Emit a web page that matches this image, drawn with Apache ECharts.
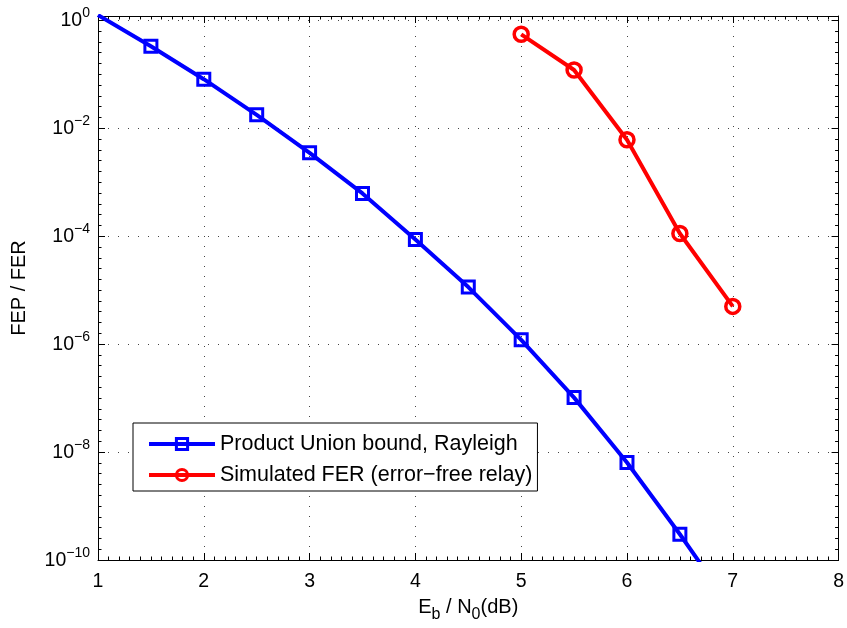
<!DOCTYPE html>
<html>
<head>
<meta charset="utf-8">
<script src="https://cdn.jsdelivr.net/npm/echarts@6/dist/echarts.min.js"></script>
<style>
html, body { margin: 0; padding: 0; background: #fff; }
#chart { width: 847px; height: 628px; }
</style>
</head>
<body>
<div id="chart"></div>
<script>
// Eb/N0 (dB) points
const boundX = [1, 1.5, 2, 2.5, 3, 3.5, 4, 4.5, 5, 5.5, 6, 6.5, 7];
const boundFEP = [1.25, 0.33, 0.081, 0.0177, 0.0035, 6.2e-4, 8.7e-5, 1.14e-5, 1.2e-6, 1.02e-7, 6.4e-9, 3.0e-10, 1.2e-11];
const simX = [5, 5.5, 6, 6.5, 7];
const simFER = [0.55, 0.12, 0.0061, 1.12e-4, 5.0e-6];

const seriesNames = ['Product Union bound, Rayleigh', 'Simulated FER (error\u2212free relay)'];
const xRange = [1, 8];
const yRange = [1e-10, 1.2];   // plotted on log10 scale
const font = '"Liberation Sans", Arial, Helvetica, sans-serif';

const lg = v => Math.log10(v);
const toPts = (xs, ys) => xs.map((x, i) => [x, lg(ys[i])]);

function decadeLabel(v) {
    const n = Math.round(v);
    if (Math.abs(v - n) > 1e-6) return '';
    return '{b|10}{e|' + (n < 0 ? '\u2212' : '') + Math.abs(n) + '}';
}

const dotted = { color: '#444', width: 1, type: [1, 9] };
const tickStyle = { color: '#000', width: 1 };

const chart = echarts.init(document.getElementById('chart'));
const option = {
    backgroundColor: '#fff',
    animation: false,
    textStyle: { fontFamily: font },
    grid: { left: 98, right: 4, top: 16, bottom: 66 },
    legend: {
        orient: 'vertical',
        left: 133, top: 423,
        padding: [10, 5, 5, 14],
        itemGap: 9,
        itemWidth: 66, itemHeight: 14,
        backgroundColor: '#fff',
        borderColor: '#000', borderWidth: 1, borderRadius: 0,
        lineStyle: { width: 4 },
        itemStyle: { borderWidth: 3 },
        textStyle: { fontFamily: font, fontSize: 21.5, lineHeight: 22, color: '#000' },
        data: seriesNames
    },
    xAxis: [{
        type: 'value', min: xRange[0], max: xRange[1], interval: 1,
        name: '{n|E}{s|b}{n| / N}{s|0}{n|(dB)}',
        nameLocation: 'middle', nameGap: 37,
        nameTextStyle: {
            rich: {
                n: { fontFamily: font, fontSize: 20, lineHeight: 20, color: '#000', verticalAlign: 'top' },
                s: { fontFamily: font, fontSize: 16, lineHeight: 16, color: '#000', verticalAlign: 'top', padding: [10, 0, 0, 0] }
            }
        },
        axisLine: { show: true, onZero: false, lineStyle: { color: '#000', width: 1 } },
        axisTick: { inside: true, length: 7, lineStyle: tickStyle },
        minorTick: { show: true, splitNumber: 10, length: 3.5, lineStyle: tickStyle },
        axisLabel: { fontFamily: font, fontSize: 19.5, color: '#000', margin: 12 },
        splitLine: { show: true, lineStyle: dotted }
    }, {
        type: 'value', position: 'top', min: xRange[0], max: xRange[1], interval: 1,
        axisLine: { show: true, onZero: false, lineStyle: { color: '#000', width: 1 } },
        axisTick: { inside: true, length: 7, lineStyle: tickStyle },
        minorTick: { show: true, splitNumber: 10, length: 3.5, lineStyle: tickStyle },
        axisLabel: { show: false },
        splitLine: { show: false }
    }],
    yAxis: [{
        type: 'value', min: lg(yRange[0]), max: lg(yRange[1]), interval: 2,
        name: 'FEP / FER',
        nameLocation: 'middle', nameGap: 69,
        nameTextStyle: { fontFamily: font, fontSize: 20, color: '#000' },
        axisLine: { show: true, onZero: false, lineStyle: { color: '#000', width: 1 } },
        axisTick: { inside: true, length: 7, lineStyle: tickStyle },
        minorTick: { show: true, splitNumber: 10, length: 3.5, lineStyle: tickStyle },
        axisLabel: {
            margin: 8,
            padding: [2, 0, 0, 0],
            formatter: decadeLabel,
            rich: {
                b: { fontFamily: font, fontSize: 19.5, lineHeight: 19.5, color: '#000', verticalAlign: 'bottom' },
                e: { fontFamily: font, fontSize: 14, lineHeight: 14, color: '#000', verticalAlign: 'bottom', padding: [0, 0, 11, 0] }
            }
        },
        splitLine: { show: true, lineStyle: dotted }
    }, {
        type: 'value', position: 'right', min: lg(yRange[0]), max: lg(yRange[1]), interval: 2,
        axisLine: { show: true, onZero: false, lineStyle: { color: '#000', width: 1 } },
        axisTick: { inside: true, length: 7, lineStyle: tickStyle },
        minorTick: { show: true, splitNumber: 10, length: 3.5, lineStyle: tickStyle },
        axisLabel: { show: false },
        splitLine: { show: false }
    }],
    series: [{
        name: seriesNames[0],
        type: 'line',
        data: toPts(boundX, boundFEP),
        clip: true,
        color: '#0000ff',
        symbol: 'rect', symbolSize: 12,
        showAllSymbol: true,
        itemStyle: { color: 'rgba(0,0,0,0)', borderColor: '#0000ff', borderWidth: 3 },
        lineStyle: { color: '#0000ff', width: 4 },
        emphasis: { disabled: true }
    }, {
        name: seriesNames[1],
        type: 'line',
        data: toPts(simX, simFER),
        clip: true,
        color: '#ff0000',
        symbol: 'circle', symbolSize: 14,
        showAllSymbol: true,
        itemStyle: { color: 'rgba(0,0,0,0)', borderColor: '#ff0000', borderWidth: 3.5 },
        lineStyle: { color: '#ff0000', width: 4 },
        emphasis: { disabled: true }
    }]
};
chart.setOption(option);
</script>
</body>
</html>
